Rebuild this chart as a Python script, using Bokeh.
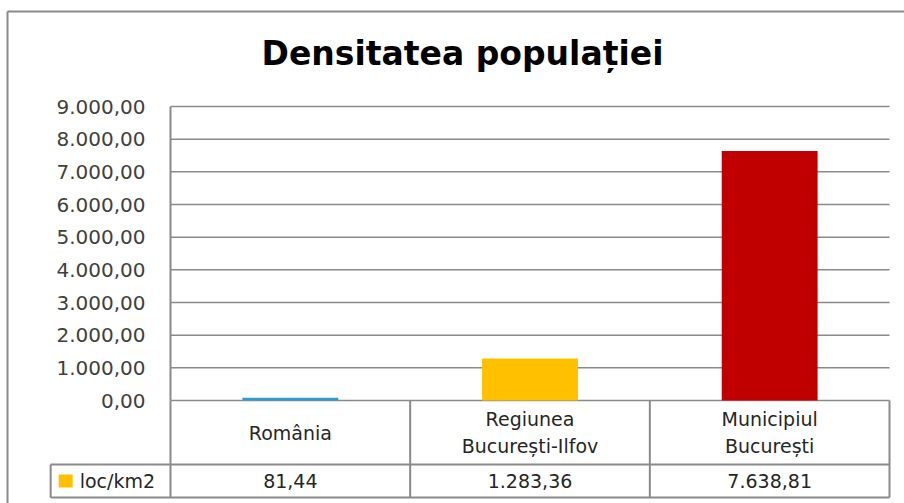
from bokeh.plotting import figure
from bokeh.models import Range1d, FixedTicker, LinearAxis
from bokeh.embed import file_html
from bokeh.resources import INLINE
from bokeh.core.properties import value

# ---------------- data ----------------
TITLE = "Densitatea populației"
SERIES_NAME = "loc/km2"
CATEGORIES = ["România", "Regiunea\nBucurești-Ilfov", "Municipiul\nBucurești"]
VALUES = [81.44, 1283.36, 7638.81]
BAR_COLORS = ["#2E9AD0", "#FFC000", "#C00000"]
KEY_COLOR = "#FFC000"
Y_TICKS = [0, 1000, 2000, 3000, 4000, 5000, 6000, 7000, 8000, 9000]
Y_TICK_LABELS = ["0,00", "1.000,00", "2.000,00", "3.000,00", "4.000,00",
                 "5.000,00", "6.000,00", "7.000,00", "8.000,00", "9.000,00"]


def ro_fmt(v):
    s = f"{v:,.2f}"
    return s.replace(",", "#").replace(".", ",").replace("#", ".")


# ---------------- layout / style ----------------
W, H = 904, 503
PLOT_L, PLOT_R = 170, 889          # pixel extent of the category area
ZERO_Y, TOP_Y = 400, 106           # pixel rows of 0 and of the top tick
N = len(CATEGORIES)
UNIT = (PLOT_R - PLOT_L) / N       # px per category
PXU = (ZERO_Y - TOP_Y) / Y_TICKS[-1]  # px per value unit

LINE = "#8a8a8a"
TEXT = "#262626"
FONT = "DejaVu Sans"

ROW1_Y = 464      # bottom of category-name row (px)
ROW2_Y = 497      # bottom of value row (px)
KEY_L = -0.5      # left edge of the legend-key cell, in category units

p = figure(width=W, height=H,
           x_range=Range1d(-PLOT_L / UNIT, (W - PLOT_L) / UNIT),
           y_range=Range1d(-(H - ZERO_Y) / PXU, ZERO_Y / PXU),
           output_backend="svg", toolbar_location=None,
           x_axis_location=None, y_axis_location=None, min_border=0)
p.extra_x_ranges = {"px": Range1d(0, W)}
p.extra_y_ranges = {"px": Range1d(H, 0)}
p.outline_line_color = None
p.xgrid.visible = False
p.ygrid.visible = False
p.background_fill_color = "white"
p.border_fill_color = "white"

# outer chart border (left and top)
p.segment(x0=[7, 7], x1=[7, W], y0=[11, 11], y1=[H, 11],
          x_range_name="px", y_range_name="px", line_color=LINE, line_width=2)

# title
p.text(x=[462], y=[53], text=[TITLE], x_range_name="px", y_range_name="px",
       text_align="center", text_baseline="middle",
       text_font=value(FONT), text_font_style="bold",
       text_font_size=value("33px"), text_color="black")

# y axis (at the left edge of the category area)
yaxis = LinearAxis(fixed_location=0, ticker=FixedTicker(ticks=Y_TICKS))
yaxis.major_label_overrides = {t: l for t, l in zip(Y_TICKS, Y_TICK_LABELS)}
yaxis.major_label_text_font = FONT
yaxis.major_label_text_font_size = "20px"
yaxis.major_label_text_color = "#404040"
yaxis.major_label_standoff = 19
yaxis.major_tick_line_color = None
yaxis.minor_tick_line_color = None
yaxis.axis_line_color = None
p.add_layout(yaxis, "left")

# horizontal grid lines
p.segment(x0=[0] * len(Y_TICKS), x1=[N] * len(Y_TICKS), y0=Y_TICKS, y1=Y_TICKS,
          line_color=LINE, line_width=1.5)
# vertical axis line
p.segment(x0=[0], x1=[0], y0=[0], y1=[Y_TICKS[-1]], line_color=LINE, line_width=2)

# bars
centers = [i + 0.5 for i in range(N)]
p.vbar(x=centers, top=VALUES, width=0.4, fill_color=BAR_COLORS, line_color=None)

# ---------------- data table ----------------
cols = list(range(0, N + 1))
p.segment(x0=cols, x1=cols, y0=[ZERO_Y] * (N + 1), y1=[ROW2_Y] * (N + 1),
          y_range_name="px", line_color=LINE, line_width=2)
p.segment(x0=[KEY_L], x1=[KEY_L], y0=[ROW1_Y], y1=[ROW2_Y],
          y_range_name="px", line_color=LINE, line_width=2)
p.segment(x0=[KEY_L, KEY_L], x1=[N, N], y0=[ROW1_Y, ROW2_Y], y1=[ROW1_Y, ROW2_Y],
          y_range_name="px", line_color=LINE, line_width=2)

p.text(x=centers, y=[(ZERO_Y + ROW1_Y) / 2] * N, text=CATEGORIES,
       y_range_name="px", text_align="center", text_baseline="middle",
       text_font=value(FONT), text_font_size=value("19px"),
       text_color=TEXT, text_line_height=1.2)
p.text(x=centers, y=[(ROW1_Y + ROW2_Y) / 2] * N, text=[ro_fmt(v) for v in VALUES],
       y_range_name="px", text_align="center", text_baseline="middle",
       text_font=value(FONT), text_font_size=value("19px"), text_color=TEXT)

p.rect(x=[KEY_L + 15 / UNIT], y=[(ROW1_Y + ROW2_Y) / 2], width=14, height=13,
       width_units="screen", height_units="screen", y_range_name="px",
       fill_color=KEY_COLOR, line_color=None)
p.text(x=[KEY_L + 29 / UNIT], y=[(ROW1_Y + ROW2_Y) / 2], text=[SERIES_NAME],
       y_range_name="px", text_align="left", text_baseline="middle",
       text_font=value(FONT), text_font_size=value("19px"), text_color=TEXT)

open("out.html", "w").write(file_html(p, INLINE))
